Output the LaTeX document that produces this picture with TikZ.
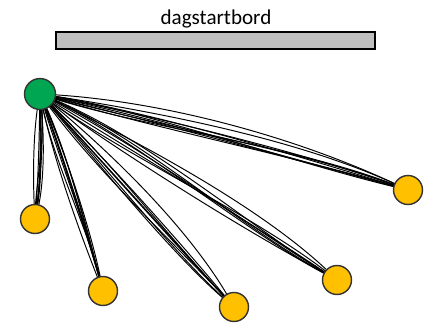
\documentclass[tikz,border=0pt]{standalone}
\usepackage{fontspec}
\setmainfont{Carlito}
\usetikzlibrary{calc,backgrounds}

\definecolor{tafelgrijs}{RGB}{191,191,191}
\definecolor{startgroen}{RGB}{0,166,81}
\definecolor{plekgeel}{RGB}{255,192,0}

\tikzset{
  start/.style={circle, draw=black!80, fill=startgroen, line width=0.8pt, minimum size=0.62cm, inner sep=0pt},
  plek/.style={circle, draw=black!80, fill=plekgeel, line width=0.8pt, minimum size=0.58cm, inner sep=0pt},
  looplijn/.style={black, line width=0.55pt}
}

\begin{document}
\begin{tikzpicture}[x=0.02cm, y=-0.02cm]
    \useasboundingbox (0,0) rectangle (433,325);
    \pgfmathsetseed{11}

    \draw[fill=tafelgrijs, line width=0.9pt] (56,32) rectangle (375,49);
    \node (bord) at (216,19) {\fontsize{12}{14}\selectfont dagstartbord};

    \node[start] (g) at (40,94) {};
    \node[plek] (p1) at (35,219) {};
    \node[plek] (p2) at (103,291) {};
    \node[plek] (p3) at (234,307) {};
    \node[plek] (p4) at (337,280) {};
    \node[plek] (p5) at (408,190) {};

    % lijnen van start naar elke plek (\s = spreiding, \b = doorbuiging)
    \begin{pgfonlayer}{background}
        \foreach \p/\n/\s/\b in {p1/8/10/0, p2/9/10/0, p3/8/18/4, p4/8/18/-2, p5/10/16/-8} {
            \foreach \i in {1,...,\n} {
                \pgfmathsetmacro{\ax}{rand*\s}
                \pgfmathsetmacro{\ay}{rand*\s+\b}
                \pgfmathsetmacro{\bx}{rand*\s}
                \pgfmathsetmacro{\by}{rand*\s+\b}
                \draw[looplijn] (g.center) .. controls ($(g)!0.3!(\p)+(\ax,\ay)$) and ($(g)!0.72!(\p)+(\bx,\by)$) .. (\p.center);
            }
        }
    \end{pgfonlayer}
\end{tikzpicture}
\end{document}
